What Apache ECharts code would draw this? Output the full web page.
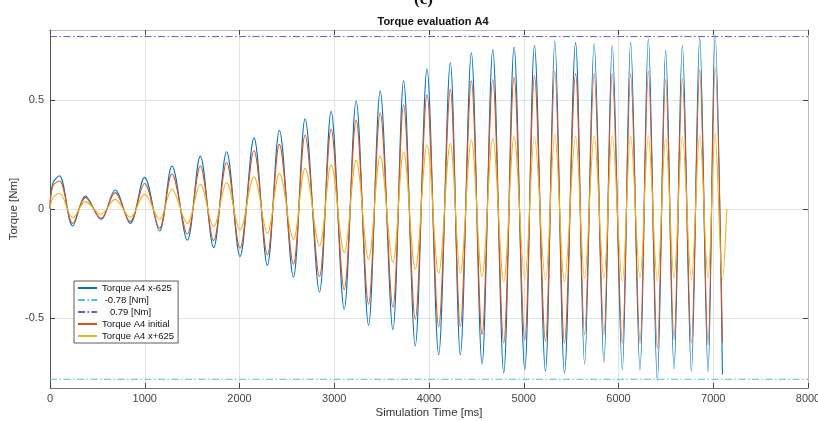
<!DOCTYPE html>
<html>
<head>
<meta charset="utf-8">
<script src="https://cdn.jsdelivr.net/npm/echarts@6/dist/echarts.min.js"></script>
<style>
html,body{margin:0;padding:0;background:#fff;}
#chart{width:818px;height:421px;}
</style>
</head>
<body>
<div id="chart"></div>
<script>
// Time (ms) of start, early rise, then alternating peaks / troughs
const times = [0, 29,
  99, 240, 374, 539, 687, 846, 998, 1156, 1287, 1449, 1586, 1727, 1864, 2005,
  2153, 2294, 2421, 2569, 2692, 2844, 2967, 3105, 3231, 3362, 3485, 3619, 3732, 3855,
  3979, 4102, 4225, 4331, 4447, 4560, 4673, 4789, 4898, 5011, 5113, 5229, 5328, 5430,
  5547, 5642, 5743, 5846, 5934, 6040, 6128, 6227, 6315, 6410, 6498, 6586, 6674, 6769,
  6857, 6945, 7019, 7097];

const torqueMinus625 = [0, 0.117,
  0.152, -0.078, 0.059, -0.047, 0.087, -0.066, 0.145, -0.101, 0.197, -0.143, 0.242, -0.177,
  0.262, -0.218, 0.326, -0.258, 0.361, -0.312, 0.413, -0.380, 0.447, -0.459, 0.495, -0.532,
  0.540, -0.553, 0.587, -0.627, 0.642, -0.668, 0.671, -0.668, 0.715, -0.710, 0.730, -0.752,
  0.742, -0.736, 0.750, -0.744, 0.770, -0.752, 0.762, -0.710, 0.758, -0.703, 0.750, -0.736,
  0.765, -0.739, 0.780, -0.785, 0.727, -0.732, 0.750, -0.744, 0.785, -0.748, 0.796, -0.759];

const torqueInitial = [0, 0.105,
  0.128, -0.066, 0.052, -0.043, 0.075, -0.058, 0.117, -0.088, 0.160, -0.114, 0.197, -0.145,
  0.213, -0.180, 0.267, -0.210, 0.296, -0.253, 0.338, -0.309, 0.366, -0.370, 0.407, -0.436,
  0.441, -0.450, 0.476, -0.505, 0.524, -0.538, 0.547, -0.538, 0.587, -0.576, 0.593, -0.614,
  0.605, -0.599, 0.610, -0.607, 0.631, -0.614, 0.620, -0.576, 0.620, -0.576, 0.620, -0.614,
  0.620, -0.614, 0.631, -0.637, 0.593, -0.599, 0.598, -0.614, 0.636, -0.622, 0.648, -0.614];

const torquePlus625 = [0, 0.049,
  0.072, -0.040, 0.034, -0.024, 0.044, -0.038, 0.067, -0.047, 0.090, -0.066, 0.113, -0.081,
  0.120, -0.096, 0.148, -0.111, 0.163, -0.139, 0.186, -0.169, 0.201, -0.200, 0.224, -0.230,
  0.242, -0.244, 0.262, -0.276, 0.293, -0.294, 0.300, -0.294, 0.316, -0.309, 0.323, -0.332,
  0.331, -0.322, 0.331, -0.325, 0.341, -0.332, 0.334, -0.317, 0.334, -0.317, 0.334, -0.332,
  0.334, -0.317, 0.334, -0.328, 0.323, -0.317, 0.331, -0.322, 0.338, -0.317, 0.343, -0.325];
const plusEnd = [7143, 0];

const limitLow = -0.78;
const limitHigh = 0.79;
const limitSpan = [0, 8000];

const xTicks = [0, 1000, 2000, 3000, 4000, 5000, 6000, 7000, 8000];
const yTicks = [-0.5, 0, 0.5];

const seriesNames = ['Torque A4 x-625', ' -0.78 [Nm]', '   0.79 [Nm]', 'Torque A4 initial', 'Torque A4 x+625'];

const pairs = (t, v) => t.map((x, i) => [x, v[i]]);
const font = "'Liberation Sans Narrow','Liberation Sans',Arial,sans-serif";
const dashDot = [7, 2.5, 1.5, 2.5];

const chart = echarts.init(document.getElementById('chart'), null, {renderer: 'canvas'});
chart.setOption({
  animation: false,
  backgroundColor: '#ffffff',
  title: {
    text: 'Torque evaluation A4',
    left: 428, top: 11, textAlign: 'center',
    textStyle: {fontFamily: "'Liberation Sans',Arial,sans-serif", fontSize: 11, fontWeight: 'bold', color: '#111'}
  },
  graphic: [{
    type: 'text', left: 414, top: -9,
    style: {text: '(c)', font: "bold 17px 'Liberation Serif','DejaVu Serif',serif", fill: '#111'}
  }],
  grid: {left: 50, right: 10, top: 30, bottom: 33, containLabel: false, outerBoundsMode: 'none'},
  legend: {
    orient: 'vertical', left: 74, top: 281,
    itemWidth: 19, itemHeight: 10, itemGap: 2,
    padding: [2, 4, 2, 3],
    borderColor: '#333', borderWidth: 0.8, backgroundColor: '#fff',
    itemStyle: {opacity: 0},
    textStyle: {fontFamily: font, fontSize: 9.5, color: '#111'},
    data: seriesNames
  },
  xAxis: [{
    type: 'value', min: 0, max: 8000, interval: 1000,
    name: 'Simulation Time [ms]', nameLocation: 'middle', nameGap: 19, nameMoveOverlap: false,
    nameTextStyle: {fontFamily: font, fontSize: 11.5, color: '#333'},
    axisLine: {show: true, onZero: false, lineStyle: {color: '#777', width: 1}},
    axisTick: {show: true, inside: true, length: 5, lineStyle: {color: '#444'}},
    axisLabel: {fontFamily: font, fontSize: 11, color: '#444', margin: 5, formatter: v => String(v)},
    splitLine: {show: true, lineStyle: {color: '#e2e2e2', width: 1}}
  }, {
    type: 'value', position: 'top', min: 0, max: 8000, interval: 1000,
    axisLine: {show: true, onZero: false, lineStyle: {color: '#bbb', width: 1}},
    axisTick: {show: true, inside: true, length: 5, lineStyle: {color: '#444'}},
    axisLabel: {show: false}, splitLine: {show: false}
  }],
  yAxis: [{
    type: 'value', min: -0.82, max: 0.82,
    name: 'Torque [Nm]', nameLocation: 'middle', nameGap: 30, nameMoveOverlap: false,
    nameTextStyle: {fontFamily: font, fontSize: 11.5, color: '#333'},
    axisLine: {show: true, onZero: false, lineStyle: {color: '#555', width: 1}},
    axisTick: {show: true, inside: true, length: 5, customValues: yTicks, lineStyle: {color: '#444'}},
    axisLabel: {fontFamily: font, fontSize: 11, color: '#444', margin: 6, customValues: yTicks,
      formatter: v => String(v)},
    splitLine: {show: true, lineStyle: {color: '#e2e2e2', width: 1}}
  }, {
    type: 'value', position: 'right', min: -0.82, max: 0.82,
    axisLine: {show: true, onZero: false, lineStyle: {color: '#bbb', width: 1}},
    axisTick: {show: true, inside: true, length: 5, customValues: yTicks, lineStyle: {color: '#444'}},
    axisLabel: {show: false}, splitLine: {show: false}
  }],
  series: [
    {name: seriesNames[0], type: 'line', symbol: 'none', smooth: 0.35,
     data: pairs(times, torqueMinus625), lineStyle: {color: '#0072BD', width: 1.1}, itemStyle: {color: '#0072BD'}},
    {name: seriesNames[1], type: 'line', symbol: 'none',
     data: limitSpan.map(t => [t, limitLow]), lineStyle: {color: '#4EC5C8', width: 1, type: dashDot}, itemStyle: {color: '#4EC5C8'}},
    {name: seriesNames[2], type: 'line', symbol: 'none',
     data: limitSpan.map(t => [t, limitHigh]), lineStyle: {color: '#6A5ACD', width: 1, type: dashDot}, itemStyle: {color: '#6A5ACD'}},
    {name: seriesNames[3], type: 'line', symbol: 'none', smooth: 0.35,
     data: pairs(times, torqueInitial), lineStyle: {color: '#D95319', width: 1.1}, itemStyle: {color: '#D95319'}},
    {name: seriesNames[4], type: 'line', symbol: 'none', smooth: 0.35,
     data: pairs(times, torquePlus625).concat([plusEnd]), lineStyle: {color: '#EDB120', width: 1.1}, itemStyle: {color: '#EDB120'}}
  ]
});
</script>
</body>
</html>
